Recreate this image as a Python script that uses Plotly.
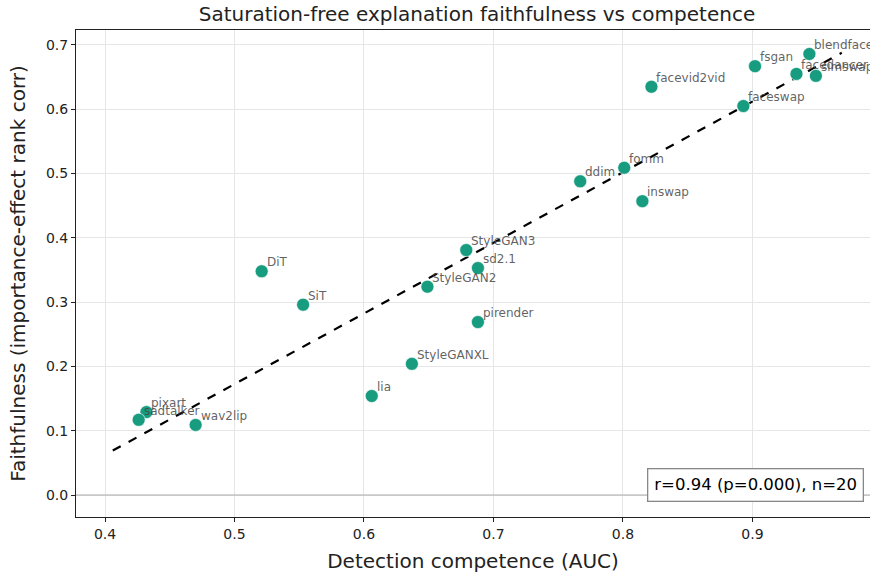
import numpy as np
import plotly.graph_objects as go

# Per-generator results: detection AUC vs explanation faithfulness
names = ["blendface", "fsgan", "facedancer", "simswap", "facevid2vid", "faceswap",
         "fomm", "ddim", "inswap", "StyleGAN3", "sd2.1", "DiT", "SiT", "StyleGAN2",
         "pirender", "StyleGANXL", "lia", "pixart", "sadtalker", "wav2lip"]
auc = [0.944, 0.902, 0.934, 0.949, 0.822, 0.893,
       0.801, 0.767, 0.815, 0.679, 0.688, 0.521, 0.553, 0.649,
       0.688, 0.637, 0.606, 0.432, 0.426, 0.470]
faith = [0.686, 0.667, 0.655, 0.652, 0.635, 0.605,
         0.509, 0.488, 0.457, 0.381, 0.353, 0.348, 0.296, 0.324,
         0.269, 0.204, 0.154, 0.129, 0.117, 0.109]
stats_text = "r=0.94 (p=0.000), n=20"

x = np.array(auc)
y = np.array(faith)
slope, intercept = np.polyfit(x, y, 1)
xfit = np.array([x.min() - 0.02, x.max() + 0.02])
yfit = slope * xfit + intercept

FONT = "DejaVu Sans"
fig = go.Figure()

fig.add_trace(go.Scatter(
    x=xfit, y=yfit, mode="lines",
    line=dict(color="black", width=2.2, dash="dash"),
    hoverinfo="skip", showlegend=False,
))
fig.add_trace(go.Scatter(
    x=auc, y=faith, mode="markers",
    marker=dict(size=13, color="#179c80", line=dict(color="white", width=0.6)),
    text=names, showlegend=False,
))

annotations = []
for n, xi, yi in zip(names, auc, faith):
    annotations.append(dict(
        x=xi, y=yi, xref="x", yref="y", text=n, showarrow=False,
        xanchor="left", yanchor="bottom", xshift=3, yshift=0,
        font=dict(family=FONT, size=12, color="rgba(70,70,70,0.85)"),
    ))
annotations.append(dict(
    x=0.992, y=0.03, xref="paper", yref="paper", text=stats_text,
    showarrow=False, xanchor="right", yanchor="bottom",
    font=dict(family=FONT, size=16.5, color="black"),
    bgcolor="white", bordercolor="#888888", borderwidth=1.3, borderpad=6,
))

fig.add_hline(y=0, line=dict(color="#aaaaaa", width=1))

axis_common = dict(
    showgrid=True, gridcolor="#e6e6e6", gridwidth=1,
    showline=True, linecolor="#222222", linewidth=1.1, mirror=True,
    ticks="outside", ticklen=4, tickcolor="#222222",
    tickfont=dict(family=FONT, size=14, color="#222222"),
    zeroline=False,
)
fig.update_xaxes(
    range=[0.3776, 0.9908], tickvals=[0.4, 0.5, 0.6, 0.7, 0.8, 0.9],
    ticktext=["0.4", "0.5", "0.6", "0.7", "0.8", "0.9"],
    title=dict(text="Detection competence (AUC)", font=dict(family=FONT, size=20, color="#222222"), standoff=13),
    **axis_common,
)
fig.update_yaxes(
    range=[-0.0342, 0.7233], tickvals=[0.0, 0.1, 0.2, 0.3, 0.4, 0.5, 0.6, 0.7],
    ticktext=["0.0", "0.1", "0.2", "0.3", "0.4", "0.5", "0.6", "0.7"],
    title=dict(text="Faithfulness (importance-effect rank corr)", font=dict(family=FONT, size=20, color="#222222"), standoff=14),
    **axis_common,
)

fig.update_layout(
    width=870, height=575,
    margin=dict(l=76, r=0, t=30, b=58),
    plot_bgcolor="white", paper_bgcolor="white",
    title=dict(text="Saturation-free explanation faithfulness vs competence",
               xref="paper", x=0.505, xanchor="center", y=0.976, yanchor="middle",
               font=dict(family=FONT, size=20, color="#222222")),
    annotations=annotations,
    showlegend=False,
)

fig.write_html("out.html")
